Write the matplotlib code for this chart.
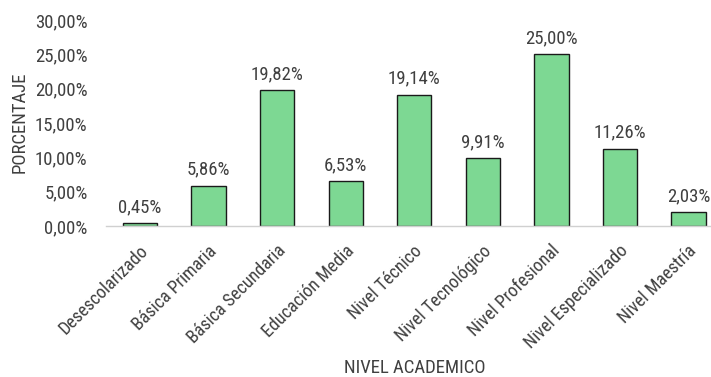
import matplotlib
matplotlib.use("Agg")
import matplotlib.pyplot as plt
from matplotlib.ticker import FuncFormatter
from matplotlib.transforms import ScaledTranslation

niveles = [
    "Desescolarizado",
    "Básica Primaria",
    "Básica Secundaria",
    "Educación Media",
    "Nivel Técnico",
    "Nivel Tecnológico",
    "Nivel Profesional",
    "Nivel Especializado",
    "Nivel Maestría",
]
porcentajes = [0.45, 5.86, 19.82, 6.53, 19.14, 9.91, 25.00, 11.26, 2.03]

plt.rcParams["font.family"] = ["Liberation Sans Narrow", "Roboto Condensed",
                               "Archivo Narrow", "DejaVu Sans"]
text_color = "#404040"


def pct(v):
    return f"{v:.2f}".replace(".", ",") + "%"


fig = plt.figure(figsize=(7.11, 3.77), dpi=100)
ax = fig.add_axes([0.1487, 0.4005, 0.868, 0.5464])

x = range(len(niveles))
bars = ax.bar(x, porcentajes, width=0.5, color="#7dd893", edgecolor="#1a1a1a", linewidth=1)

for rect, v in zip(bars, porcentajes):
    ax.annotate(pct(v), (rect.get_x() + rect.get_width() / 2, v),
                xytext=(0, 5), textcoords="offset points",
                ha="center", va="bottom", fontsize=13.5, color=text_color)

ax.set_xlim(-0.5, len(niveles) - 0.5)
ax.set_ylim(0, 30)
ax.set_yticks(range(0, 31, 5))
ax.yaxis.set_major_formatter(FuncFormatter(lambda v, _: pct(v)))
ax.set_xticks(list(x))
ax.set_xticklabels(niveles, rotation=45, ha="right", va="center", rotation_mode="anchor",
                   fontsize=13)

ax.tick_params(axis="both", length=0, colors=text_color)
ax.tick_params(axis="y", pad=13, labelsize=13.5)
ax.tick_params(axis="x", pad=16)

# nudge the slanted category names a little to the right
shift = ScaledTranslation(4 / 72, 0, fig.dpi_scale_trans)
for lbl in ax.get_xticklabels():
    lbl.set_transform(lbl.get_transform() + shift)

for side in ("top", "right", "left"):
    ax.spines[side].set_visible(False)
ax.spines["bottom"].set_color("#d0d0d0")
ax.spines["bottom"].set_linewidth(1)

fig.text(0.584, 0.024, "NIVEL ACADEMICO", ha="center", va="center", fontsize=13.5, color=text_color)
fig.text(0.027, 0.676, "PORCENTAJE", ha="center", va="center", rotation=90, fontsize=13.5, color=text_color)

fig.savefig("out.png", dpi=100)
